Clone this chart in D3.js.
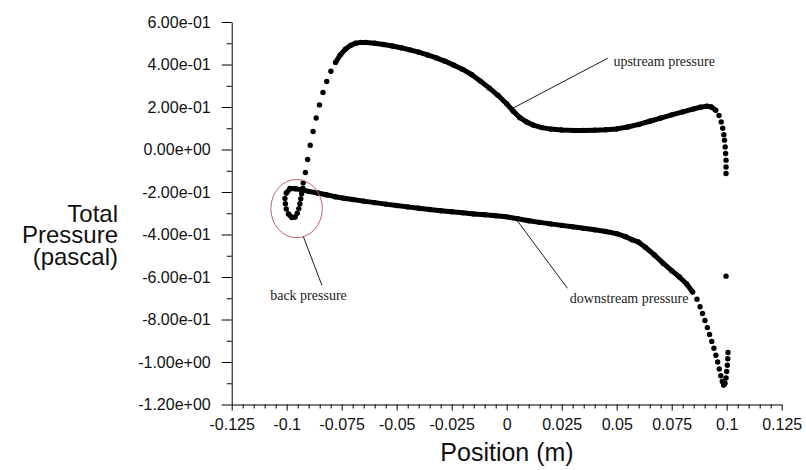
<!DOCTYPE html>
<html>
<head>
<meta charset="utf-8">
<script src="https://cdn.jsdelivr.net/npm/d3@7"></script>
<style>
  body { margin: 0; background: #fff; }
  svg { display: block; }
  .tick text { font-family: "Liberation Sans", Arial, sans-serif; font-size: 16px; fill: #111; }
  .title { font-family: "Liberation Sans", Arial, sans-serif; fill: #111; }
  .note { font-family: "Liberation Serif", "Times New Roman", serif; font-size: 14px; fill: #222; }
</style>
</head>
<body>
<div id="chart"></div>
<script>
const width = 806;
const height = 470;

const xTickValues = [-0.125, -0.1, -0.075, -0.05, -0.025, 0, 0.025, 0.05, 0.075, 0.1, 0.125];
const xTickLabels = ["-0.125", "-0.1", "-0.075", "-0.05", "-0.025", "0", "0.025", "0.05", "0.075", "0.1", "0.125"];
const yTickValues = [0.6, 0.4, 0.2, 0, -0.2, -0.4, -0.6, -0.8, -1.0, -1.2];
const yTickLabels = ["6.00e-01", "4.00e-01", "2.00e-01", "0.00e+00", "-2.00e-01", "-4.00e-01",
  "-6.00e-01", "-8.00e-01", "-1.00e+00", "-1.20e+00"];

// upstream pressure (loop near the inlet, rise, plateau, drop at the outlet)
const upstreamX = [-0.0985, -0.1002, -0.1008, -0.1006, -0.1002, -0.0992, -0.0977, -0.0962, -0.0952, -0.0945,
  -0.094, -0.0936, -0.0932, -0.0927, -0.0925, -0.0915, -0.0905, -0.0893, -0.088, -0.0866,
  -0.0851, -0.0835, -0.0818, -0.0799, -0.0778, -0.0756, -0.0733, -0.071, -0.0687, -0.0664,
  -0.064, -0.06, -0.056, -0.052, -0.048, -0.044, -0.04, -0.036, -0.032, -0.028,
  -0.024, -0.02, -0.016, -0.012, -0.008, -0.004, 0.0, 0.003, 0.006, 0.009,
  0.012, 0.016, 0.02, 0.025, 0.03, 0.035, 0.04, 0.045, 0.05, 0.055,
  0.06, 0.065, 0.07, 0.075, 0.08, 0.085, 0.088, 0.091, 0.093, 0.095,
  0.0965, 0.0975, 0.0982, 0.0987, 0.099, 0.0993, 0.0995, 0.0997, 0.0997, 0.0997];
const upstreamY = [-0.185, -0.205, -0.23, -0.255, -0.28, -0.303, -0.32, -0.318, -0.3, -0.278,
  -0.255, -0.232, -0.208, -0.182, -0.157, -0.108, -0.047, 0.02, 0.085, 0.148,
  0.21, 0.268, 0.32, 0.368, 0.41, 0.445, 0.472, 0.49, 0.5, 0.504,
  0.504, 0.5, 0.494, 0.487, 0.479, 0.469, 0.458, 0.445, 0.431, 0.415,
  0.397, 0.377, 0.353, 0.322, 0.29, 0.255, 0.215, 0.18, 0.15, 0.13,
  0.115, 0.103, 0.096, 0.092, 0.09, 0.09, 0.091, 0.093, 0.097, 0.106,
  0.118, 0.133, 0.148, 0.163, 0.177, 0.191, 0.199, 0.204, 0.2, 0.185,
  0.16, 0.13, 0.1, 0.07, 0.044, 0.012, -0.019, -0.05, -0.082, -0.113];

// downstream pressure
const downstreamX = [-0.0985, -0.096, -0.093, -0.09, -0.086, -0.082, -0.078, -0.074, -0.07, -0.065,
  -0.06, -0.055, -0.05, -0.045, -0.04, -0.035, -0.03, -0.025, -0.02, -0.015,
  -0.01, -0.005, 0.0, 0.005, 0.01, 0.015, 0.02, 0.025, 0.03, 0.035,
  0.04, 0.045, 0.05, 0.054, 0.057, 0.0598, 0.063, 0.067, 0.0712, 0.075,
  0.0785, 0.0818, 0.0845, 0.0865, 0.0879, 0.089, 0.0901, 0.0912, 0.0922, 0.0932,
  0.0942, 0.0951, 0.0959, 0.0966, 0.0973, 0.098, 0.0986, 0.0992, 0.0997, 0.1,
  0.1003, 0.1005, 0.1006, 0.0997];
const downstreamY = [-0.183, -0.185, -0.19, -0.197, -0.205, -0.213, -0.222, -0.229, -0.235, -0.243,
  -0.25, -0.257, -0.264, -0.27, -0.276, -0.282, -0.288, -0.293, -0.298, -0.303,
  -0.307, -0.312, -0.317, -0.326, -0.335, -0.343, -0.35, -0.357, -0.364, -0.371,
  -0.378, -0.386, -0.396, -0.41, -0.425, -0.435, -0.46, -0.495, -0.536, -0.57,
  -0.6, -0.633, -0.67, -0.705, -0.74, -0.772, -0.805, -0.838, -0.87, -0.903,
  -0.935, -0.968, -1.0, -1.033, -1.065, -1.092, -1.108, -1.1, -1.075, -1.045,
  -1.015, -0.985, -0.955, -0.596];

var svg = d3.select("#chart")
  .append("svg")
  .attr("width", width)
  .attr("height", height);

svg.append("rect").attr("width", width).attr("height", height).attr("fill", "#fff");

let xScale = d3.scaleLinear().domain([-0.125, 0.125]).range([231.7, 781.7]);
let yScale = d3.scaleLinear().domain([-1.2, 0.6]).range([404.5, 22]);

// minor ticks
const yMinor = d3.range(0.5, -1.2, -0.2).map((d) => +d.toFixed(2));
const xMinor = d3.range(-0.125, 0.1251, 0.005).map((d) => +d.toFixed(3))
  .filter((d) => !xTickValues.includes(d));

svg.append("g")
  .attr("transform", "translate(" + xScale.range()[0] + ",0)")
  .call(d3.axisLeft(yScale).tickValues(yMinor).tickSize(5).tickFormat(""))
  .call((g) => g.select(".domain").remove());

svg.append("g")
  .attr("transform", "translate(0," + yScale.range()[0] + ")")
  .call(d3.axisBottom(xScale).tickValues(xMinor).tickSize(4).tickFormat(""))
  .call((g) => g.select(".domain").remove());

svg.append("g")
  .attr("transform", "translate(" + xScale.range()[0] + ",0)")
  .call(d3.axisLeft(yScale).tickValues(yTickValues).tickSize(10).tickPadding(11)
    .tickSizeOuter(0).tickFormat((d, i) => yTickLabels[i]));

svg.append("g")
  .attr("transform", "translate(0," + yScale.range()[0] + ")")
  .call(d3.axisBottom(xScale).tickValues(xTickValues).tickSize(6).tickPadding(8)
    .tickSizeOuter(0).tickFormat((d, i) => xTickLabels[i]));

// axis titles (one text block, three stacked lines)
const yTitle = ["Total", "Pressure", "(pascal)"];
svg.append("text")
  .attr("class", "title")
  .attr("font-size", 24)
  .attr("text-anchor", "end")
  .attr("y", 221.5)
  .selectAll("tspan")
  .data(yTitle)
  .enter()
  .append("tspan")
  .attr("x", 118)
  .attr("dy", (d, i) => (i === 0 ? 0 : 21.7))
  .text((d) => d);

svg.append("text")
  .attr("class", "title")
  .attr("font-size", 25)
  .attr("text-anchor", "middle")
  .attr("x", 507)
  .attr("y", 461)
  .text("Position (m)");

// series: dense stretches drawn as a thick trace, steep stretches as separate nodes
function drawSeries(xs, ys) {
  const pts = xs.map((x, i) => [xScale(x), yScale(ys[i])]);
  const runs = [];
  let run = [pts[0]];
  for (let i = 1; i < pts.length; i++) {
    const dx = Math.abs(pts[i][0] - pts[i - 1][0]);
    const dy = Math.abs(pts[i][1] - pts[i - 1][1]);
    if (dy <= 1.6 * dx && Math.hypot(dx, dy) < 20) {
      run.push(pts[i]);
    } else {
      if (run.length > 1) runs.push(run);
      run = [pts[i]];
    }
  }
  if (run.length > 1) runs.push(run);

  const g = svg.append("g");
  g.selectAll("path")
    .data(runs)
    .enter()
    .append("path")
    .attr("d", d3.line().curve(d3.curveLinear))
    .attr("fill", "none")
    .attr("stroke", "#000")
    .attr("stroke-width", 5)
    .attr("stroke-linecap", "round")
    .attr("stroke-linejoin", "round");

  g.selectAll("circle")
    .data(pts)
    .enter()
    .append("circle")
    .attr("cx", (d) => d[0])
    .attr("cy", (d) => d[1])
    .attr("r", 2.7)
    .attr("fill", "#000");
}

drawSeries(upstreamX, upstreamY);
drawSeries(downstreamX, downstreamY);

// annotations
svg.append("ellipse")
  .attr("cx", xScale(-0.0955))
  .attr("cy", yScale(-0.278))
  .attr("rx", xScale(-0.0955 + 0.0117) - xScale(-0.0955))
  .attr("ry", yScale(-0.278 - 0.137) - yScale(-0.278))
  .attr("fill", "none")
  .attr("stroke", "#c0606a")
  .attr("stroke-width", 1);

const notes = [
  { text: "upstream pressure", x: 0.0485, y: 0.392, from: [0.046, 0.43], to: [0.002, 0.19] },
  { text: "downstream pressure", x: 0.0287, y: -0.72, from: [0.0276, -0.653], to: [0.0053, -0.342] },
  { text: "back pressure", x: -0.1075, y: -0.709, from: [-0.084, -0.639], to: [-0.0924, -0.411] }
];

svg.append("g")
  .selectAll("line")
  .data(notes)
  .enter()
  .append("line")
  .attr("x1", (d) => xScale(d.from[0]))
  .attr("y1", (d) => yScale(d.from[1]))
  .attr("x2", (d) => xScale(d.to[0]))
  .attr("y2", (d) => yScale(d.to[1]))
  .attr("stroke", "#000")
  .attr("stroke-width", 0.9);

svg.append("g")
  .selectAll("text")
  .data(notes)
  .enter()
  .append("text")
  .attr("class", "note")
  .attr("x", (d) => xScale(d.x))
  .attr("y", (d) => yScale(d.y))
  .text((d) => d.text);
</script>
</body>
</html>
